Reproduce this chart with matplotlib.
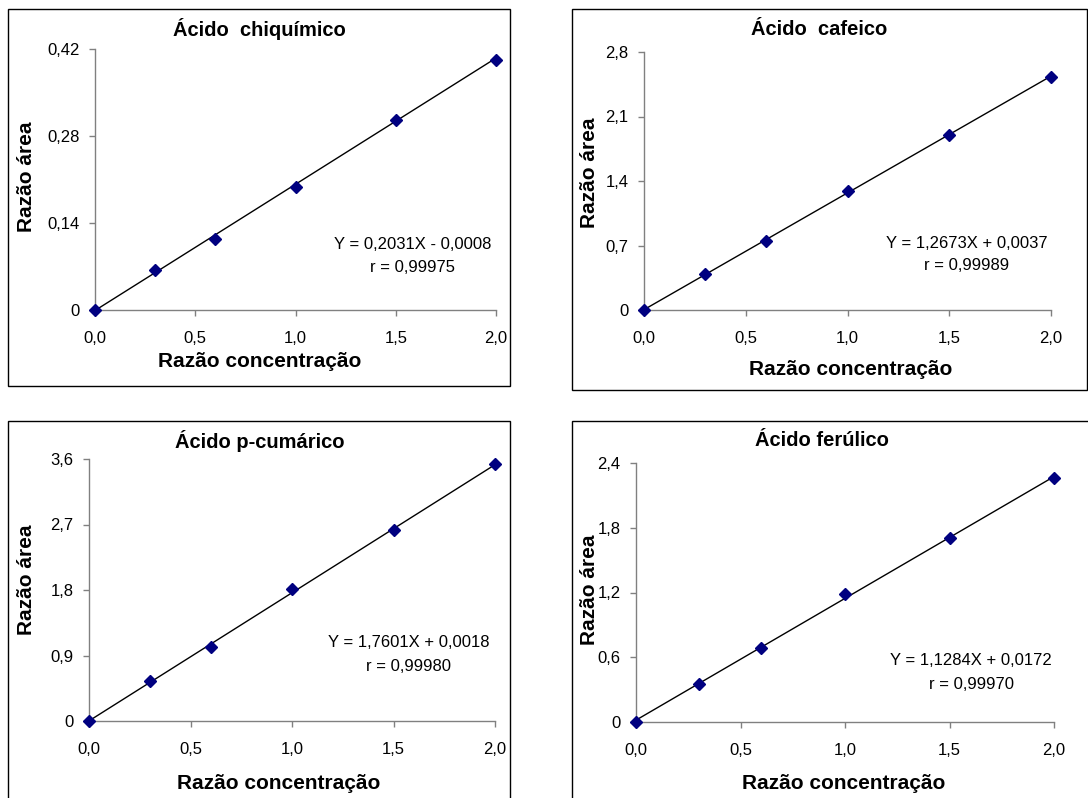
import matplotlib.pyplot as plt
from matplotlib.patches import Rectangle

plt.rcParams['font.family'] = ['Liberation Sans', 'DejaVu Sans']

W, H = 1088, 798

# concentration ratios (same for all four acids)
conc = [0.0, 0.3, 0.6, 1.0, 1.5, 2.0]
x_ticks = [0.0, 0.5, 1.0, 1.5, 2.0]
x_tick_labels = ['0,0', '0,5', '1,0', '1,5', '2,0']

# area ratios per acid
chiquimico = [0.0, 0.064, 0.115, 0.198, 0.306, 0.403]
cafeico = [0.0, 0.395, 0.751, 1.291, 1.900, 2.524]
cumarico = [0.0, 0.549, 1.020, 1.811, 2.621, 3.527]
ferulico = [0.0, 0.355, 0.689, 1.183, 1.705, 2.261]

# regression coefficients (slope, intercept) and r
coef_chiquimico = (0.2031, -0.0008, '0,99975')
coef_cafeico = (1.2673, 0.0037, '0,99989')
coef_cumarico = (1.7601, 0.0018, '0,99980')
coef_ferulico = (1.1284, 0.0172, '0,99970')

y_ticks_chiquimico = [0, 0.14, 0.28, 0.42]
y_ticks_cafeico = [0, 0.7, 1.4, 2.1, 2.8]
y_ticks_cumarico = [0, 0.9, 1.8, 2.7, 3.6]
y_ticks_ferulico = [0, 0.6, 1.2, 1.8, 2.4]

titles = ['Ácido  chiquímico', 'Ácido  cafeico', 'Ácido p-cumárico', 'Ácido ferúlico']
equations = ['Y = 0,2031X - 0,0008', 'Y = 1,2673X + 0,0037',
             'Y = 1,7601X + 0,0018', 'Y = 1,1284X + 0,0172']


def fmt(v):
    if v == 0:
        return '0'
    return ('%g' % v).replace('.', ',')


fig = plt.figure(figsize=(W / 100, H / 100), dpi=100)


def px_rect(x0, y0, x1, y1):
    # pixel box (top-left origin) -> figure fraction [l, b, w, h]
    return [x0 / W, 1 - y1 / H, (x1 - x0) / W, (y1 - y0) / H]


# chart area frames
for (x0, y0, x1, y1) in [(8, 9, 510, 386), (572, 9, 1087, 390),
                         (8, 421, 510, 800), (572, 421, 1090, 800)]:
    l, b, w, h = px_rect(x0, y0, x1, y1)
    fig.patches.append(Rectangle((l, b), w, h, transform=fig.transFigure,
                                 fill=False, edgecolor='black', linewidth=1.0))

panels = [
    dict(box=(95, 49, 496, 310), y=chiquimico, coef=coef_chiquimico,
         yt=y_ticks_chiquimico, title=(0.411, 1.077), xl=(0.411, -0.199),
         yl=(-0.172, 0.51), ann=(1.586, 0.106, 0.069)),
    dict(box=(644, 52, 1051, 310), y=cafeico, coef=coef_cafeico,
         yt=y_ticks_cafeico, title=(0.43, 1.089), xl=(0.509, -0.229),
         yl=(-0.135, 0.531), ann=(1.587, 0.727, 0.478)),
    dict(box=(89, 459, 495, 721), y=cumarico, coef=coef_cumarico,
         yt=y_ticks_cumarico, title=(0.421, 1.069), xl=(0.468, -0.237),
         yl=(-0.155, 0.538), ann=(1.576, 1.072, 0.742)),
    dict(box=(636, 463, 1054, 722), y=ferulico, coef=coef_ferulico,
         yt=y_ticks_ferulico, title=(0.445, 1.085), xl=(0.498, -0.236),
         yl=(-0.112, 0.51), ann=(1.603, 0.574, 0.352)),
]

for i, p in enumerate(panels):
    ax = fig.add_axes(px_rect(*p['box']))
    slope, icpt, r = p['coef']
    fit_x = [0.0, 2.0]
    fit_y = [slope * v + icpt for v in fit_x]
    ax.plot(fit_x, fit_y, color='black', linewidth=1.0, zorder=2)
    ax.plot(conc, p['y'], linestyle='none', marker='D', markersize=6,
            color='#000080', clip_on=False, zorder=3)

    ax.set_xlim(0, 2.0)
    ax.set_ylim(0, p['yt'][-1])
    ax.set_xticks(x_ticks)
    ax.set_xticklabels(x_tick_labels)
    ax.set_yticks(p['yt'])
    ax.set_yticklabels([fmt(v) for v in p['yt']])

    for side in ['top', 'right']:
        ax.spines[side].set_visible(False)
    for side in ['left', 'bottom']:
        ax.spines[side].set_color('#808080')
        ax.spines[side].set_linewidth(1.0)
    ax.tick_params(axis='both', direction='out', length=4, width=1.0,
                   color='#808080', labelsize=12, labelcolor='black')
    ax.tick_params(axis='x', pad=11)
    ax.tick_params(axis='y', pad=7)

    ax.set_title(titles[i], fontsize=14.5, fontweight='bold',
                 x=p['title'][0], y=p['title'][1], va='center', pad=0)
    ax.set_xlabel('Razão concentração', fontsize=15, fontweight='bold')
    ax.xaxis.label.set_va('center')
    ax.xaxis.set_label_coords(*p['xl'])
    ax.set_ylabel('Razão área', fontsize=15, fontweight='bold')
    ax.yaxis.label.set_va('center')
    ax.yaxis.set_label_coords(*p['yl'])

    ax_x, ay1, ay2 = p['ann']
    ax.text(ax_x, ay1, equations[i], fontsize=12, ha='center', va='center')
    ax.text(ax_x, ay2, 'r = ' + r, fontsize=12, ha='center', va='center')

fig.savefig('out.png', dpi=100)
